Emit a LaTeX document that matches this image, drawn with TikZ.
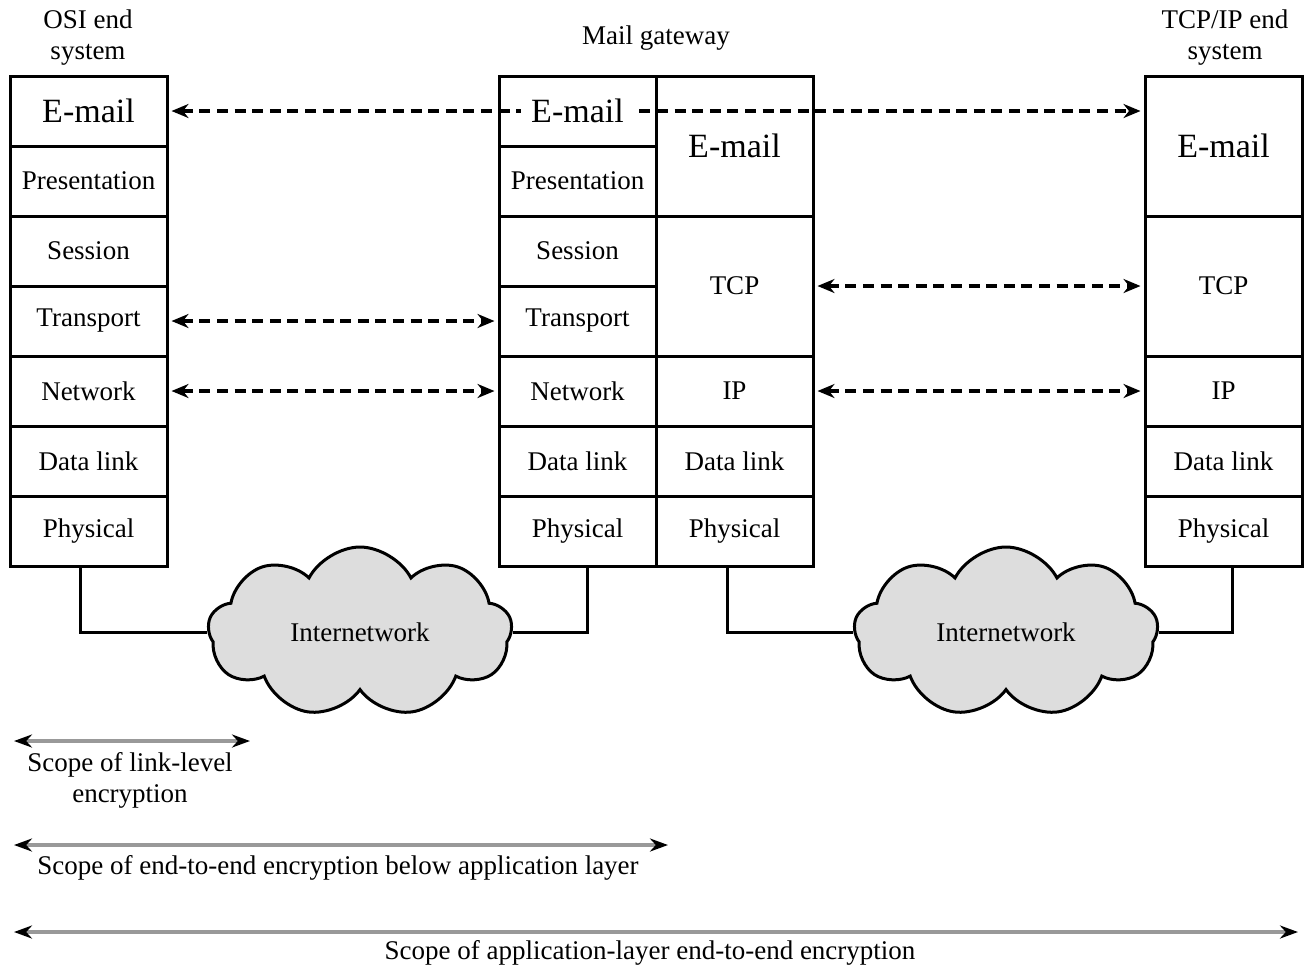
\documentclass[tikz,border=0pt]{standalone}
\usepackage{fontspec}
\setmainfont{Liberation Serif}
\usetikzlibrary{arrows.meta,shapes.symbols}
\tikzset{
  lay/.style     ={draw, line width=1.5pt, minimum width=78.5pt, minimum height=35pt,
                   inner sep=0pt, font=\fontsize{13.5}{15.5}\selectfont},
  lay2/.style    ={lay, minimum height=70pt},
  app/.style     ={font=\fontsize{17}{20}\selectfont},
  lbl/.style     ={align=center, font=\fontsize{13.5}{15.5}\selectfont},
  peer/.style    ={<->, >={Stealth[length=8.5pt,width=7pt]}, line width=1.6pt,
                   dash pattern=on 5.5pt off 3.3pt, shorten <=1.5pt, shorten >=1.5pt},
  rangebar/.style={<->, >={Stealth[length=9pt,width=6.5pt,black]}, line width=2.2pt, draw=gray!80},
  net/.style     ={cloud, cloud puffs=9, cloud puff arc=125, aspect=1.8, draw, fill=gray!27,
                   line width=1.5pt, minimum width=152pt, minimum height=85pt, inner sep=0pt,
                   font=\fontsize{13.5}{15.5}\selectfont},
  wire/.style    ={line width=1.5pt},
}
\begin{document}
\begin{tikzpicture}[x=0.5pt,y=-0.5pt]
  \useasboundingbox (0,0) rectangle (1306,971);
  % titles
  \node[lbl] (osiT) at (88,38)   {OSI end\\system};
  \node[lbl] (gwT)  at (656,38)  {Mail gateway};
  \node[lbl] (tcpT) at (1225,38) {TCP/IP end\\system};
  % OSI end system
  \node[lay,app] (oE)  at (88.5,111) {E-mail};
  \node[lay]     (oPr) at (88.5,181) {Presentation};
  \node[lay]     (oS)  at (88.5,251) {Session};
  \node[lay]     (oT)  at (88.5,321) {Transport};
  \node[lay]     (oN)  at (88.5,391) {Network};
  \node[lay]     (oD)  at (88.5,461) {Data link};
  \node[lay]     (oP)  at (88.5,531) {Physical};
  % mail gateway, OSI side
  \node[lay]     (gE)  at (577.5,111) {};
  \node[lay]     (gPr) at (577.5,181) {Presentation};
  \node[lay]     (gS)  at (577.5,251) {Session};
  \node[lay]     (gT)  at (577.5,321) {Transport};
  \node[lay]     (gN)  at (577.5,391) {Network};
  \node[lay]     (gD)  at (577.5,461) {Data link};
  \node[lay]     (gP)  at (577.5,531) {Physical};
  % mail gateway, TCP/IP side
  \node[lay2,app] (hE) at (734.5,146) {E-mail};
  \node[lay2]     (hT) at (734.5,286) {TCP};
  \node[lay]      (hI) at (734.5,391) {IP};
  \node[lay]      (hD) at (734.5,461) {Data link};
  \node[lay]      (hP) at (734.5,531) {Physical};
  % TCP/IP end system
  \node[lay2,app] (rE) at (1223.5,146) {E-mail};
  \node[lay2]     (rT) at (1223.5,286) {TCP};
  \node[lay]      (rI) at (1223.5,391) {IP};
  \node[lay]      (rD) at (1223.5,461) {Data link};
  \node[lay]      (rP) at (1223.5,531) {Physical};
  % peer relations
  \draw[peer] (oE.east) -- (oE.east -| rE.west);
  \node[app, fill=white, inner xsep=5pt, inner ysep=1pt] (gEl) at (gE) {E-mail};
  \draw[peer] (oT) -- (gT);
  \draw[peer] (oN) -- (gN);
  \draw[peer] (hT) -- (rT);
  \draw[peer] (hI) -- (rI);
  % networks
  \node[net] (netL) at (360,632)  {Internetwork};
  \node[net] (netR) at (1006,632) {Internetwork};
  \draw[wire] ([xshift=-4.25pt]oP.south) |- (netL.west);
  \draw[wire] (netL.east) -| ([xshift=4.75pt]gP.south);
  \draw[wire] ([xshift=-3.75pt]hP.south) |- (netR.west);
  \draw[wire] (netR.east) -| ([xshift=4.25pt]rP.south);
  % scopes
  \coordinate (s1a) at (14,741);
  \coordinate (s1b) at (250,741);
  \draw[rangebar] (s1a) -- (s1b);
  \node[lbl] (s1t) at (130,780) {Scope of link-level\\encryption};
  \coordinate (s2a) at (14,845);
  \coordinate (s2b) at (668,845);
  \draw[rangebar] (s2a) -- (s2b);
  \node[lbl] (s2t) at (338,868) {Scope of end-to-end encryption below application layer};
  \coordinate (s3a) at (14,932);
  \coordinate (s3b) at (1298,932);
  \draw[rangebar] (s3a) -- (s3b);
  \node[lbl] (s3t) at (650,953) {Scope of application-layer end-to-end encryption};
\end{tikzpicture}
\end{document}
